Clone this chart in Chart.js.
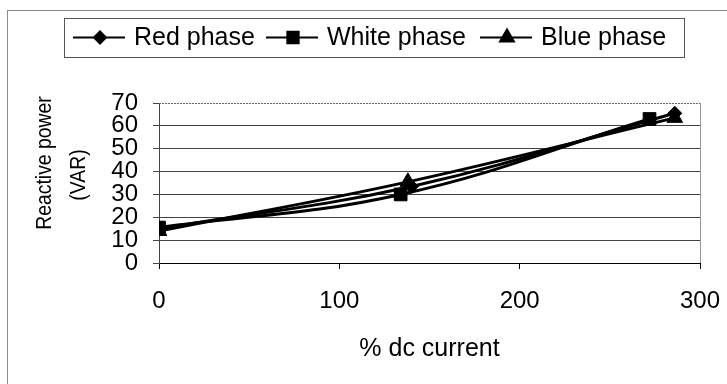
<!DOCTYPE html>
<html>
<head>
<meta charset="utf-8">
<script src="https://cdn.jsdelivr.net/npm/chart.js@4"></script>
<style>
  html, body { margin: 0; padding: 0; background: #fff; }
  #wrap { width: 727px; height: 384px; }
</style>
</head>
<body>
<div id="wrap"><canvas id="phaseChart" width="727" height="384"></canvas></div>
<script>
// readings per phase: % dc current vs reactive power
const seriesNames = ['Red phase', 'White phase', 'Blue phase'];
const redX = [0, 140, 286];
const redY = [15, 33.5, 65.5];
const whiteX = [0, 134, 272];
const whiteY = [15.5, 30, 63];
const blueX = [0, 138, 286];
const blueY = [14, 35.5, 63.5];
const markers = ['rectRot', 'rect', 'triangle'];
const markerSizes = [7, 9, 9];

const xTicks = [0, 100, 200, 300];
const yTicks = [0, 10, 20, 30, 40, 50, 60, 70];
const xTitle = '% dc current';
const yTitle = ['Reactive power', '(VAR)'];

const FONT = "'Liberation Sans', Arial, sans-serif";

function toPoints(xs, ys) { return xs.map((x, i) => ({ x: x, y: ys[i] })); }

const allSeries = [toPoints(redX, redY), toPoints(whiteX, whiteY), toPoints(blueX, blueY)];

const datasets = allSeries.map((pts, i) => ({
    label: seriesNames[i],
    data: pts,
    showLine: true,
    tension: 0.4,
    borderColor: '#000',
    borderWidth: 3,
    backgroundColor: '#000',
    pointStyle: markers[i],
    pointRadius: markerSizes[i],
    pointBorderWidth: 1,
    pointBorderColor: '#000',
    pointBackgroundColor: '#000'
}));

// outer frame of the chart object
const framePlugin = {
    id: 'frame',
    beforeDraw(chart) {
        const ctx = chart.ctx;
        ctx.save();
        ctx.fillStyle = '#fff';
        ctx.fillRect(0, 0, chart.width, chart.height);
        ctx.strokeStyle = '#8c8c8c';
        ctx.lineWidth = 1;
        ctx.strokeRect(7.5, 10.5, chart.width + 20, chart.height + 20);
        ctx.restore();
    }
};

// dotted top edge and grey right edge of the plot area
const plotBorder = {
    id: 'plotBorder',
    beforeDatasetsDraw(chart) {
        const { ctx, chartArea: a } = chart;
        ctx.save();
        ctx.lineWidth = 1;
        ctx.strokeStyle = '#666';
        ctx.setLineDash([2, 1]);
        ctx.beginPath();
        ctx.moveTo(a.left, a.top + 0.5);
        ctx.lineTo(a.right, a.top + 0.5);
        ctx.stroke();
        ctx.setLineDash([]);
        ctx.strokeStyle = '#999';
        ctx.beginPath();
        ctx.moveTo(a.right + 0.5, a.top);
        ctx.lineTo(a.right + 0.5, a.bottom);
        ctx.stroke();
        ctx.restore();
    }
};

// two-line value axis title in a condensed face, a little above the axis middle
const yTitlePlugin = {
    id: 'yTitle',
    afterDraw(chart) {
        const ctx = chart.ctx;
        const centres = [[45, 163], [79, 175]];
        ctx.save();
        ctx.font = '22px ' + FONT;
        ctx.fillStyle = '#000';
        ctx.textAlign = 'center';
        ctx.textBaseline = 'middle';
        yTitle.forEach((line, i) => {
            ctx.save();
            ctx.translate(centres[i][0], centres[i][1]);
            ctx.rotate(-Math.PI / 2);
            ctx.scale(0.88, 1);
            ctx.fillText(line, 0, 0);
            ctx.restore();
        });
        ctx.restore();
    }
};

// boxed legend: line with marker, then the series name
const boxLegend = {
    id: 'boxLegend',
    afterDraw(chart) {
        const ctx = chart.ctx;
        const box = { left: 64, top: 18, right: 684, bottom: 57 };
        const starts = [73, 266, 480];
        const cy = (box.top + box.bottom) / 2;
        ctx.save();
        ctx.strokeStyle = '#555';
        ctx.lineWidth = 1;
        ctx.strokeRect(box.left + 0.5, box.top + 0.5, box.right - box.left, box.bottom - box.top);
        ctx.font = '25px ' + FONT;
        ctx.textBaseline = 'middle';
        ctx.fillStyle = '#000';
        chart.data.datasets.forEach((ds, i) => {
            const x0 = starts[i];
            ctx.strokeStyle = '#000';
            ctx.lineWidth = 2;
            ctx.beginPath();
            ctx.moveTo(x0, cy);
            ctx.lineTo(x0 + 52, cy);
            ctx.stroke();
            Chart.helpers.drawPoint(ctx, {
                pointStyle: ds.pointStyle,
                radius: ds.pointRadius - 1,
                borderWidth: 1
            }, x0 + 27, cy);
            ctx.fillText(ds.label, x0 + 61, cy + 1);
        });
        ctx.restore();
    }
};

Chart.defaults.font.family = FONT;
Chart.defaults.color = '#000';

new Chart(document.getElementById('phaseChart'), {
    type: 'scatter',
    data: { datasets: datasets },
    plugins: [framePlugin, plotBorder, yTitlePlugin, boxLegend],
    options: {
        responsive: false,
        animation: false,
        events: [],
        layout: { padding: { left: 0, top: 103, right: 27, bottom: 0 } },
        plugins: { legend: { display: false }, tooltip: { enabled: false } },
        scales: {
            x: {
                type: 'linear',
                min: xTicks[0],
                max: xTicks[xTicks.length - 1],
                afterBuildTicks(scale) { scale.ticks = xTicks.map(v => ({ value: v })); },
                afterFit(scale) {
                    scale.height = 121;
                    // keep the last label's tick padding from narrowing the plot
                    scale.paddingLeft = 0;
                    scale.paddingRight = 20;
                },
                ticks: { font: { size: 24 }, color: '#000', padding: 18, maxRotation: 0, autoSkip: false },
                grid: { drawOnChartArea: false, drawTicks: true, tickLength: 6, color: '#000' },
                border: { display: true, color: '#000', width: 1 },
                title: {
                    display: true,
                    text: xTitle,
                    font: { size: 25 },
                    color: '#000',
                    padding: { top: 0, bottom: 20 }
                }
            },
            y: {
                min: yTicks[0],
                max: yTicks[yTicks.length - 1],
                afterBuildTicks(scale) { scale.ticks = yTicks.map(v => ({ value: v })); },
                afterFit(scale) { scale.width = 159; },
                ticks: { font: { size: 24, lineHeight: 1 }, color: '#000', padding: 15, autoSkip: false },
                grid: {
                    color: ctx => ctx.tick && ctx.tick.value === 70 ? 'rgba(0,0,0,0)' : '#444',
                    tickColor: '#444',
                    tickLength: 6,
                    lineWidth: 1
                },
                border: { display: true, color: '#444', width: 1 },
                title: { display: false }
            }
        }
    }
});
</script>
</body>
</html>
